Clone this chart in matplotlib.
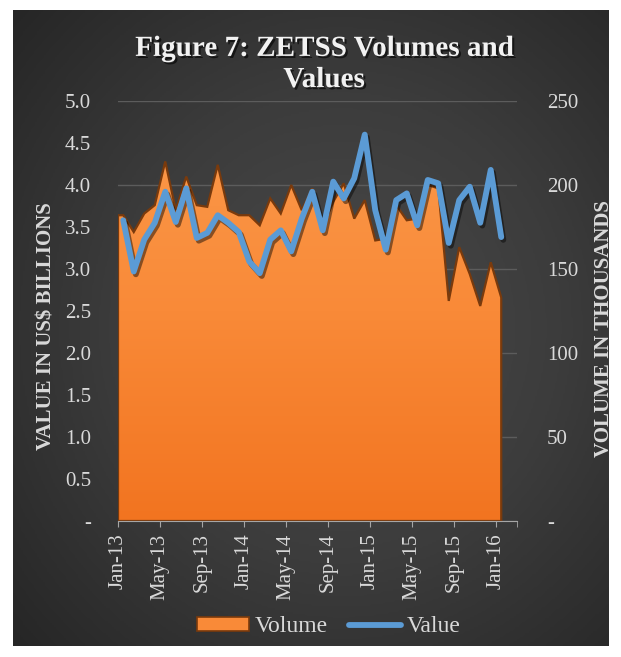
import numpy as np
import matplotlib.pyplot as plt
import matplotlib.patheffects as pe
from matplotlib.patches import Polygon, Patch
from matplotlib.lines import Line2D
from matplotlib.colors import LinearSegmentedColormap

# monthly data, Jan-13 .. Jan-16
volume = [182, 172, 183, 188, 214, 185, 205, 188, 187, 212, 185, 182, 182,
          176, 192, 183, 200, 185, 198, 175, 190, 201, 180, 191, 167, 168,
          188, 179, 180, 200, 198, 131, 163, 147, 128, 154, 133]
value = [3.58, 2.97, 3.35, 3.55, 3.92, 3.56, 3.96, 3.37, 3.43, 3.64, 3.55, 3.44,
         3.09, 2.95, 3.35, 3.46, 3.21, 3.60, 3.92, 3.46, 4.04, 3.84, 4.08, 4.60,
         3.70, 3.23, 3.82, 3.90, 3.52, 4.06, 4.02, 3.31, 3.82, 3.98, 3.55, 4.18, 3.38]
tick_labels = ["Jan-13", "May-13", "Sep-13", "Jan-14", "May-14", "Sep-14",
               "Jan-15", "May-15", "Sep-15", "Jan-16"]

serif = "Liberation Serif"
txt = "#d9d9d9"

fig = plt.figure(figsize=(6.21, 6.57), dpi=100, facecolor="white")

# dark radial background
bg = fig.add_axes([13 / 621, 1 - 646 / 657, 596 / 621, 636 / 657])
bg.axis("off")
gx, gy = np.meshgrid(np.linspace(0, 1, 300), np.linspace(0, 1, 300))
r = np.sqrt(((gx - 0.55) / 0.9) ** 2 + ((gy - 0.5) / 0.9) ** 2)
bg_cmap = LinearSegmentedColormap.from_list("bg", ["#4a4a4a", "#3c3c3c", "#262626"])
bg.imshow(r, cmap=bg_cmap, aspect="auto", extent=[0, 1, 0, 1], origin="lower")
bg.set_xlim(0, 1)
bg.set_ylim(0, 1)

ax = fig.add_axes([118 / 621, 1 - 521 / 657, 399 / 621, 420 / 657])
ax.patch.set_visible(False)
x = np.arange(len(volume))
ax.set_xlim(-0.5, 37.5)
ax.set_ylim(0, 250)

# volume area with gradient fill
verts = [(ax.get_xlim()[0], 0), (ax.get_xlim()[0], volume[0])] + list(zip(x, volume)) + [(x[-1], 0)]
area = Polygon(verts, closed=True, facecolor="none", edgecolor="#7a3a0c", lw=1.6, zorder=2)
ax.add_patch(area)
or_cmap = LinearSegmentedColormap.from_list("or", ["#f27420", "#f98a38", "#fb9a4c"])
grad = np.linspace(0, 1, 256).reshape(-1, 1)
im = ax.imshow(grad, cmap=or_cmap, aspect="auto", origin="lower",
               extent=[-0.5, 37.5, 0, 250], zorder=1.5)
im.set_clip_path(area)
ax.set_xlim(-0.5, 37.5)
ax.set_ylim(0, 250)

# value line on twin axis
ax2 = ax.twinx()
ax2.set_ylim(0, 5)
ax2.plot(x, value, color="#5b9bd5", lw=4.2, solid_joinstyle="round",
         solid_capstyle="round", zorder=4,
         path_effects=[pe.SimpleLineShadow(offset=(1.5, -2), shadow_color="black", alpha=0.45),
                       pe.Normal()])

# volume axis on the right
ax.yaxis.tick_right()
ax.yaxis.set_label_position("right")
ax.set_yticks(np.arange(0, 251, 50))
ax.set_yticklabels(["-", "50", "100", "150", "200", "250"])
ax.grid(axis="y", color="#5c5c5c", lw=1)
ax.set_axisbelow(True)
ax.tick_params(axis="y", which="both", left=False, right=False, labelleft=False,
               labelright=True, pad=18, labelcolor=txt, labelsize=15)
for s in ["top", "left", "right"]:
    ax.spines[s].set_visible(False)
ax.spines["bottom"].set_color("#a6a6a6")
ax.spines["bottom"].set_zorder(3)

xt = np.arange(-0.5, 37, 4)
ax.set_xticks(xt)
ax.set_xticklabels(tick_labels, rotation=90, fontfamily=serif)
ax.set_xticks([37.5], minor=True)
ax.tick_params(axis="x", which="both", length=4, color="#a6a6a6", pad=5,
               labelcolor=txt, labelsize=15)
for t in ax.get_yticklabels():
    t.set_fontfamily(serif)
ax.set_ylabel("VOLUME IN THOUSANDS", fontfamily=serif, fontsize=15,
              fontweight="bold", color=txt)
ax.yaxis.set_label_coords(1.192, 0.457)

# value axis on the left
ax2.yaxis.tick_left()
ax2.yaxis.set_label_position("left")
ax2.set_yticks(np.arange(0, 5.01, 0.5))
ax2.set_yticklabels(["-"] + [f"{v:.1f}" for v in np.arange(0.5, 5.01, 0.5)])
ax2.tick_params(axis="y", which="both", left=False, right=False, labelleft=True,
                labelright=False, pad=16, labelcolor=txt, labelsize=15)
for t in ax2.get_yticklabels():
    t.set_fontfamily(serif)
for s in ax2.spines.values():
    s.set_visible(False)
ax2.set_ylabel("VALUE IN US$ BILLIONS", fontfamily=serif, fontsize=15,
               fontweight="bold", color=txt)
ax2.yaxis.set_label_coords(-0.155, 0.464)

fig.text(0.522, 1 - 64 / 657, "Figure 7: ZETSS Volumes and\nValues", ha="center",
         va="center", fontfamily=serif, fontsize=21, fontweight="bold",
         color="#f2f2f2", linespacing=1.2,
         path_effects=[pe.withSimplePatchShadow(offset=(1.5, -1.5), shadow_rgbFace="black", alpha=0.6)])

handles = [Patch(facecolor="#f98a38", edgecolor="#7a3a0c", lw=1.2),
           Line2D([], [], color="#5b9bd5", lw=4.2, solid_capstyle="round")]
leg = fig.legend(handles, ["Volume", "Value"], loc="center", ncol=2,
                 bbox_to_anchor=(329 / 621, 1 - 627 / 657), frameon=False,
                 handlelength=2.2, handleheight=0.55, handletextpad=0.25,
                 columnspacing=0.9, prop={"family": serif, "size": 17})
for t in leg.get_texts():
    t.set_color(txt)

fig.savefig("out.png", dpi=100, facecolor="white")
